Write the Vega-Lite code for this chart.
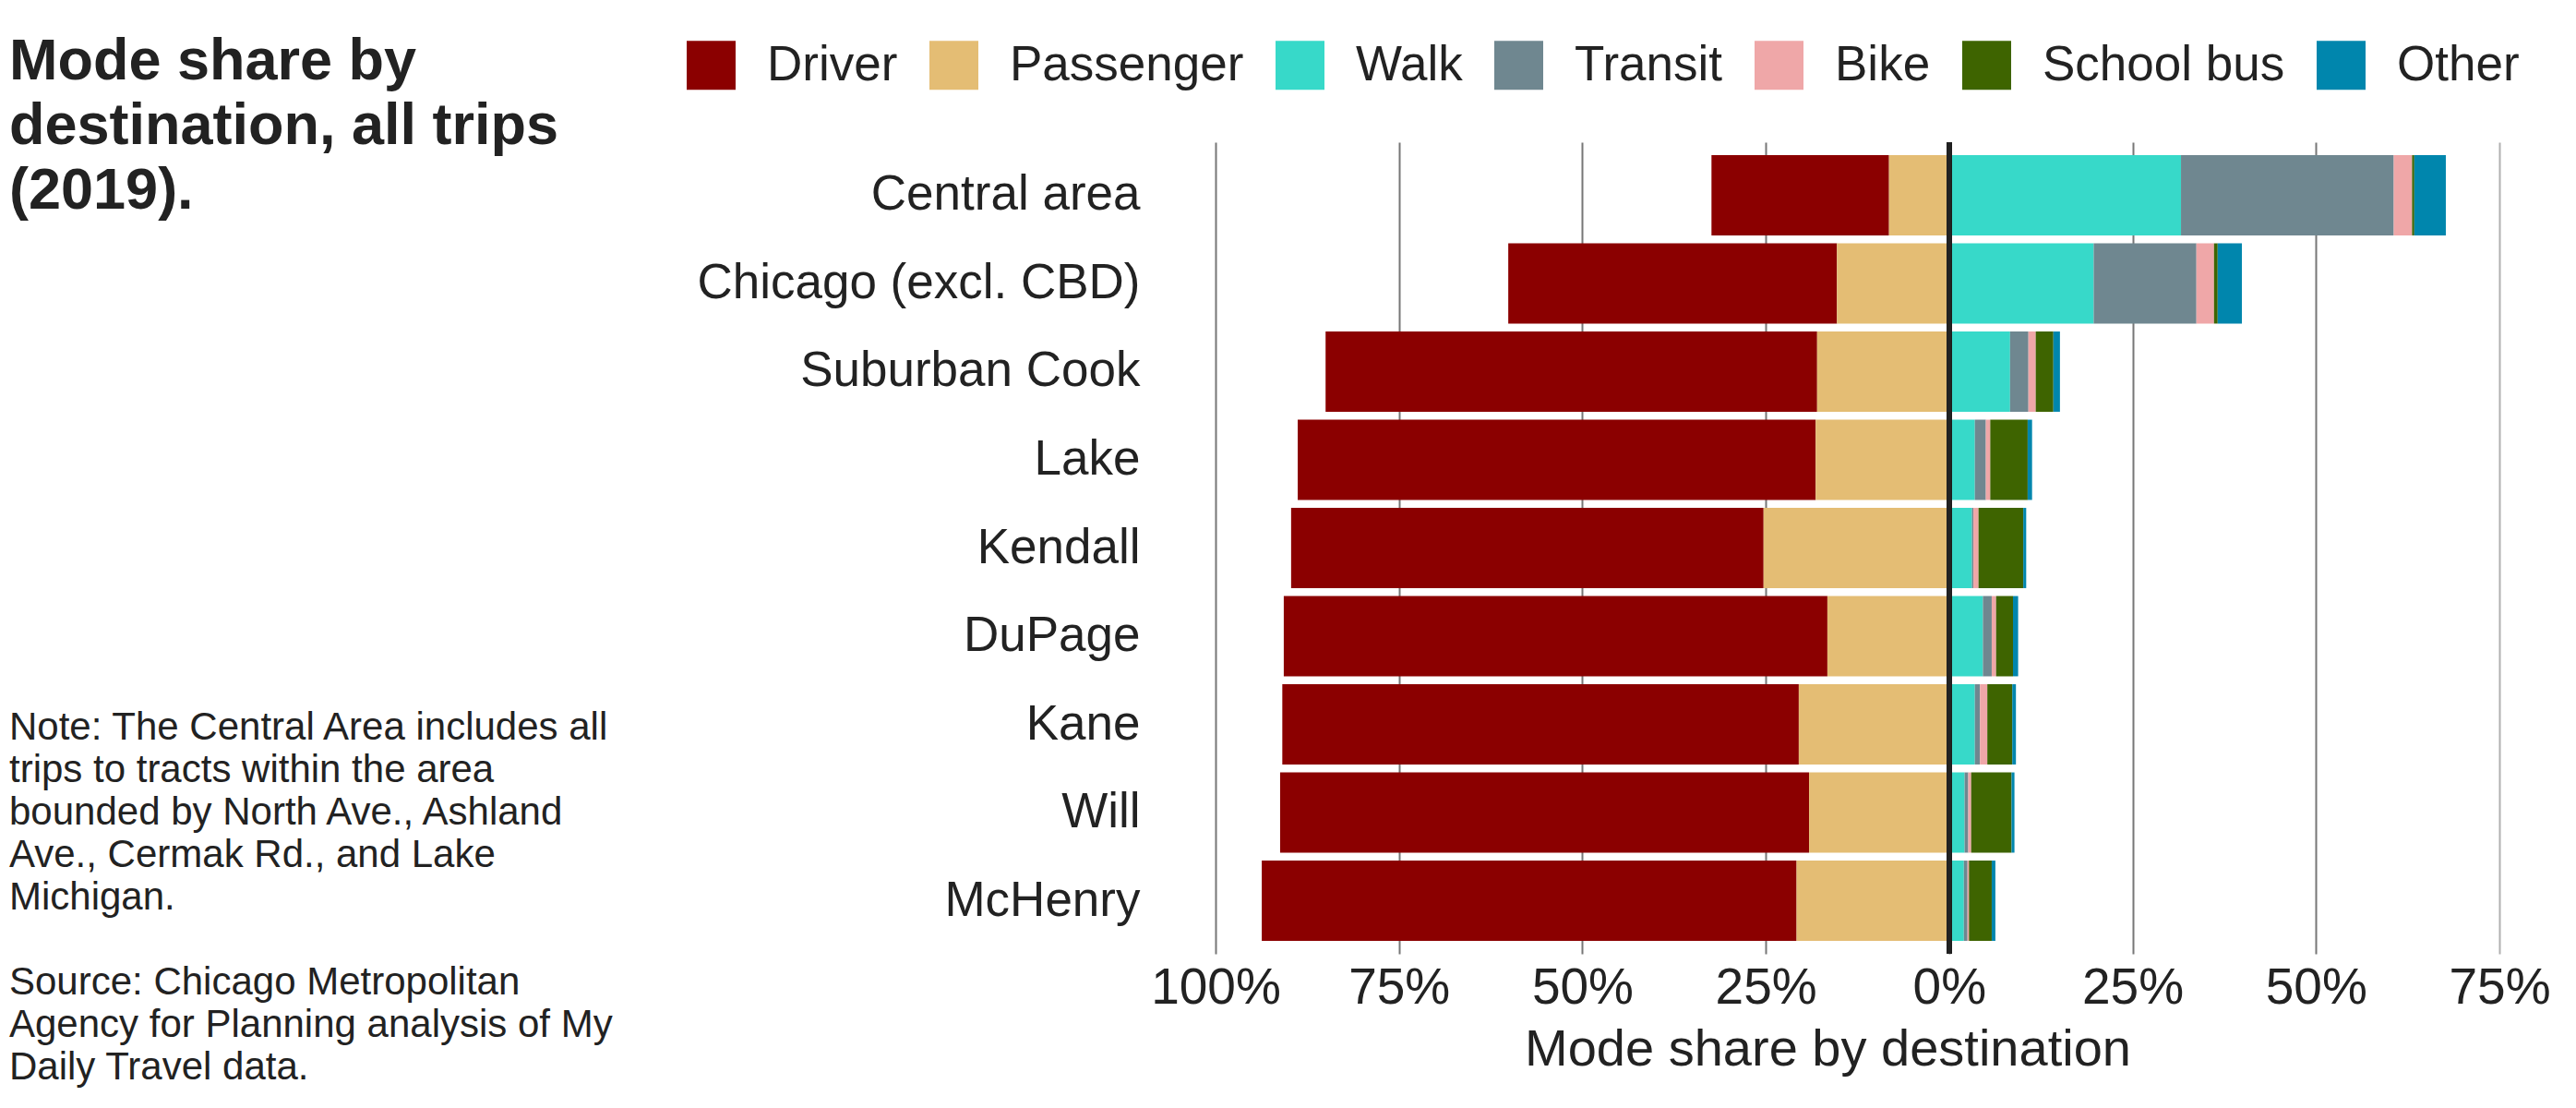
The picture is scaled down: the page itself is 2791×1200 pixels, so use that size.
{
  "$schema": "https://vega.github.io/schema/vega-lite/v6.json",
  "width": 1391,
  "height": 879,
  "autosize": {"type": "none"},
  "padding": {"left": 1317, "top": 154, "right": 83, "bottom": 167},
  "background": "white",
  "title": {
    "text": ["Mode share by", "destination, all trips", "(2019)."],
    "subtitle": ["Note: The Central Area includes all", "trips to tracts within the area", "bounded by North Ave., Ashland", "Ave., Cermak Rd., and Lake", "Michigan.", "\u200b", "Source: Chicago Metropolitan", "Agency for Planning analysis of My", "Daily Travel data."],
    "orient": "top",
    "anchor": "start",
    "frame": "group",
    "dx": -1307,
    "dy": 1133,
    "font": "Liberation Sans",
    "fontSize": 63,
    "fontWeight": "bold",
    "lineHeight": 70,
    "color": "#222222",
    "subtitleFont": "Liberation Sans",
    "subtitleFontSize": 42,
    "subtitleLineHeight": 46,
    "subtitleColor": "#222222",
    "subtitlePadding": 529,
    "offset": 0
  },
  "data": {
    "values": [
      {"dest": "Central area", "mode": "Driver", "share": -0.242},
      {"dest": "Central area", "mode": "Passenger", "share": -0.082},
      {"dest": "Central area", "mode": "Walk", "share": 0.316},
      {"dest": "Central area", "mode": "Transit", "share": 0.290},
      {"dest": "Central area", "mode": "Bike", "share": 0.025},
      {"dest": "Central area", "mode": "School bus", "share": 0.003},
      {"dest": "Central area", "mode": "Other", "share": 0.043},
      {"dest": "Chicago (excl. CBD)", "mode": "Driver", "share": -0.448},
      {"dest": "Chicago (excl. CBD)", "mode": "Passenger", "share": -0.153},
      {"dest": "Chicago (excl. CBD)", "mode": "Walk", "share": 0.197},
      {"dest": "Chicago (excl. CBD)", "mode": "Transit", "share": 0.140},
      {"dest": "Chicago (excl. CBD)", "mode": "Bike", "share": 0.024},
      {"dest": "Chicago (excl. CBD)", "mode": "School bus", "share": 0.005},
      {"dest": "Chicago (excl. CBD)", "mode": "Other", "share": 0.033},
      {"dest": "Suburban Cook", "mode": "Driver", "share": -0.670},
      {"dest": "Suburban Cook", "mode": "Passenger", "share": -0.180},
      {"dest": "Suburban Cook", "mode": "Walk", "share": 0.083},
      {"dest": "Suburban Cook", "mode": "Transit", "share": 0.025},
      {"dest": "Suburban Cook", "mode": "Bike", "share": 0.010},
      {"dest": "Suburban Cook", "mode": "School bus", "share": 0.024},
      {"dest": "Suburban Cook", "mode": "Other", "share": 0.009},
      {"dest": "Lake", "mode": "Driver", "share": -0.706},
      {"dest": "Lake", "mode": "Passenger", "share": -0.182},
      {"dest": "Lake", "mode": "Walk", "share": 0.035},
      {"dest": "Lake", "mode": "Transit", "share": 0.015},
      {"dest": "Lake", "mode": "Bike", "share": 0.006},
      {"dest": "Lake", "mode": "School bus", "share": 0.051},
      {"dest": "Lake", "mode": "Other", "share": 0.006},
      {"dest": "Kendall", "mode": "Driver", "share": -0.644},
      {"dest": "Kendall", "mode": "Passenger", "share": -0.253},
      {"dest": "Kendall", "mode": "Walk", "share": 0.031},
      {"dest": "Kendall", "mode": "Transit", "share": 0.002},
      {"dest": "Kendall", "mode": "Bike", "share": 0.007},
      {"dest": "Kendall", "mode": "School bus", "share": 0.061},
      {"dest": "Kendall", "mode": "Other", "share": 0.004},
      {"dest": "DuPage", "mode": "Driver", "share": -0.741},
      {"dest": "DuPage", "mode": "Passenger", "share": -0.166},
      {"dest": "DuPage", "mode": "Walk", "share": 0.046},
      {"dest": "DuPage", "mode": "Transit", "share": 0.012},
      {"dest": "DuPage", "mode": "Bike", "share": 0.006},
      {"dest": "DuPage", "mode": "School bus", "share": 0.023},
      {"dest": "DuPage", "mode": "Other", "share": 0.007},
      {"dest": "Kane", "mode": "Driver", "share": -0.704},
      {"dest": "Kane", "mode": "Passenger", "share": -0.205},
      {"dest": "Kane", "mode": "Walk", "share": 0.035},
      {"dest": "Kane", "mode": "Transit", "share": 0.007},
      {"dest": "Kane", "mode": "Bike", "share": 0.010},
      {"dest": "Kane", "mode": "School bus", "share": 0.034},
      {"dest": "Kane", "mode": "Other", "share": 0.005},
      {"dest": "Will", "mode": "Driver", "share": -0.721},
      {"dest": "Will", "mode": "Passenger", "share": -0.191},
      {"dest": "Will", "mode": "Walk", "share": 0.021},
      {"dest": "Will", "mode": "Transit", "share": 0.005},
      {"dest": "Will", "mode": "Bike", "share": 0.004},
      {"dest": "Will", "mode": "School bus", "share": 0.055},
      {"dest": "Will", "mode": "Other", "share": 0.004},
      {"dest": "McHenry", "mode": "Driver", "share": -0.729},
      {"dest": "McHenry", "mode": "Passenger", "share": -0.208},
      {"dest": "McHenry", "mode": "Walk", "share": 0.020},
      {"dest": "McHenry", "mode": "Transit", "share": 0.005},
      {"dest": "McHenry", "mode": "Bike", "share": 0.002},
      {"dest": "McHenry", "mode": "School bus", "share": 0.031},
      {"dest": "McHenry", "mode": "Other", "share": 0.005}
    ]
  },
  "layer": [
    {
      "transform": [
        {"calculate": "indexof(['Passenger','Driver','Walk','Transit','Bike','School bus','Other'], datum.mode)", "as": "stackOrder"}
      ],
      "mark": {"type": "bar", "stroke": null},
      "encoding": {
        "y": {
          "field": "dest",
          "type": "nominal",
          "sort": ["Central area", "Chicago (excl. CBD)", "Suburban Cook", "Lake", "Kendall", "DuPage", "Kane", "Will", "McHenry"],
          "scale": {"paddingInner": 0.09, "paddingOuter": 0.147},
          "axis": {
            "title": null,
            "domain": false,
            "ticks": false,
            "labelFont": "Liberation Sans",
            "labelFontSize": 53,
            "labelColor": "#222222",
            "labelPadding": 82,
            "labelLimit": 600
          }
        },
        "x": {
          "field": "share",
          "type": "quantitative",
          "stack": "zero",
          "scale": {"domain": [-1, 0.75], "nice": false, "zero": false},
          "axis": {
            "values": [-1, -0.75, -0.5, -0.25, 0, 0.25, 0.5, 0.75],
            "labelExpr": "format(abs(datum.value), '.0%')",
            "title": "Mode share by destination",
            "titleX": 663,
            "domain": false,
            "ticks": false,
            "tickSize": 0,
            "grid": true,
            "gridColor": {"condition": {"test": "datum.value === 0.75", "value": "#b0b0b0"}, "value": "#777777"},
            "gridWidth": 2,
            "labelFont": "Liberation Sans",
            "labelFontSize": 55,
            "labelColor": "#222222",
            "labelPadding": 10,
            "labelFlush": false,
            "labelOverlap": false,
            "titleFont": "Liberation Sans",
            "titleFontSize": 56,
            "titleFontWeight": "normal",
            "titleColor": "#222222",
            "titlePadding": 12
          }
        },
        "color": {
          "field": "mode",
          "type": "nominal",
          "scale": {
            "domain": ["Driver", "Passenger", "Walk", "Transit", "Bike", "School bus", "Other"],
            "range": ["#8b0000", "#e4bd74", "#37d9c9", "#6f8790", "#efa7a8", "#3e6400", "#0086ad"]
          },
          "legend": {
            "orient": "none",
            "legendX": -573,
            "legendY": -110,
            "direction": "horizontal",
            "title": null,
            "padding": 0,
            "symbolType": "square",
            "symbolSize": 2809,
            "symbolStrokeWidth": 0,
            "symbolOpacity": 1,
            "labelFont": "Liberation Sans",
            "labelFontSize": 53,
            "labelColor": "#222222",
            "labelOffset": 34,
            "labelLimit": 500,
            "columnPadding": 34
          }
        },
        "order": {"field": "stackOrder", "type": "quantitative"}
      }
    },
    {
      "mark": {"type": "rule", "color": "#222222", "strokeWidth": 4.5},
      "encoding": {"x": {"datum": 0, "type": "quantitative"}}
    }
  ],
  "config": {
    "view": {"stroke": null}
  }
}
